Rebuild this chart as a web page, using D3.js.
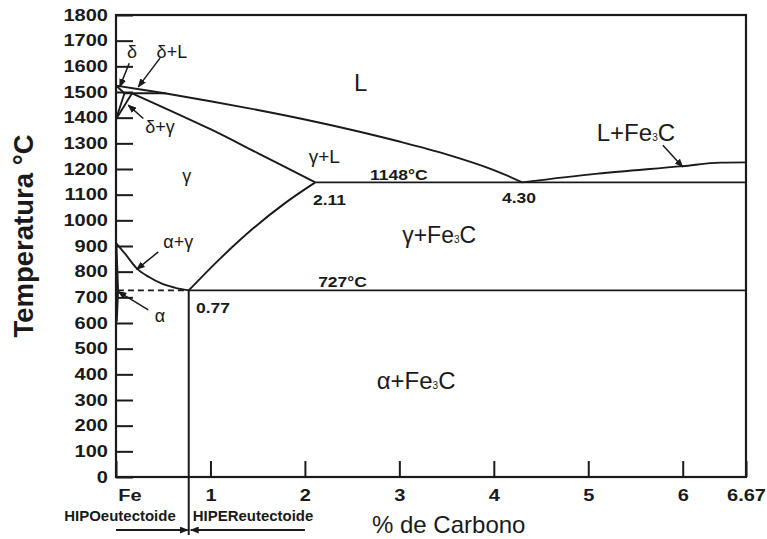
<!DOCTYPE html>
<html lang="es">
<head>
<meta charset="UTF-8">
<title>Diagrama Fe-C</title>
<style>
  body { margin: 0; background: #fff; }
  svg { display: block; font-family: "Liberation Sans", Arial, sans-serif; }
  .tick line { stroke: #1a1a1a; stroke-width: 2; }
  .tick text { font-size: 16px; font-weight: bold; fill: #1a1a1a; }
  .curve { fill: none; stroke: #1a1a1a; stroke-width: 1.9; }
  .lbl { fill: #1a1a1a; }
  .num { font-weight: bold; font-size: 14px; fill: #1a1a1a; }
</style>
</head>
<body>
<div id="chart"></div>
<script src="https://cdn.jsdelivr.net/npm/d3@7"></script>
<script>
// ejes
const tempTicks = d3.range(0, 1801, 100)
const carbonTicks = [0, 1, 2, 3, 4, 5, 6, 6.67]

// lineas del diagrama [%C, °C]
const liquidus = [[0, 1525], [0.5, 1496], [1.0, 1464], [1.5, 1430], [2.0, 1393], [2.5, 1352], [3.0, 1307], [3.5, 1257], [4.0, 1196], [4.3, 1148]]
const liquidusFe3C = [[4.3, 1148], [5.1, 1182], [6.0, 1211], [6.4, 1225], [6.67, 1226]]
const solidus = [[0.17, 1495], [1.0, 1355], [1.5, 1262], [2.11, 1148]]
const lineaA3 = [[0, 912], [0.1, 868], [0.22, 813], [0.35, 779], [0.48, 754], [0.62, 738], [0.77, 727]]
const lineaAcm = [[0.77, 727], [1.1, 850], [1.45, 968], [1.8, 1070], [2.11, 1148]]
const eutectica = [[2.11, 1148], [6.67, 1148]]
const eutectoide = [[0.77, 727], [6.67, 727]]
const eutectoideFerrita = [[0.02, 727], [0.77, 727]]
const peritectica = [[0.09, 1495], [0.53, 1495]]
const deltaL = [[0, 1525], [0.09, 1495]]
const deltaGamma1 = [[0, 1394], [0.09, 1495]]
const deltaGamma2 = [[0, 1394], [0.17, 1495]]
const solvusAlfa = [[0.005, 900], [0.022, 727], [0.008, 605]]

// etiquetas de fases: texto, %C, °C, tamaño
const fases = [
  ['δ', 0.17, 1632, 18, 'middle'],
  ['δ+L', 0.43, 1632, 18, 'start'],
  ['δ+γ', 0.31, 1340, 18, 'start'],
  ['γ', 0.75, 1149, 18, 'middle'],
  ['L', 2.59, 1504, 24, 'middle'],
  ['γ+L', 2.04, 1223, 19, 'start'],
  ['γ+Fe|3|C', 3.03, 912, 23, 'start'],
  ['α+γ', 0.5, 892, 18, 'start'],
  ['α', 0.41, 604, 18, 'start'],
  ['α+Fe|3|C', 2.76, 343, 24, 'start'],
  ['L+Fe|3|C', 5.09, 1309, 24, 'start']
]
// valores marcados
const puntos = [
  ['1148°C', 2.69, 1157],
  ['2.11', 2.085, 1060],
  ['4.30', 4.087, 1067],
  ['727°C', 2.14, 740],
  ['0.77', 0.847, 639]
]
// flechas [desde, hasta]
const flechas = [
  [[0.14, 1612], [0.04, 1520]],
  [[0.466, 1632], [0.236, 1520]],
  [[0.289, 1397], [0.13, 1449]],
  [[0.448, 877], [0.219, 809]],
  [[0.342, 651], [0.024, 722]],
  [[5.79, 1293], [6.0, 1208]]
]

const width = 767
const height = 539
const mLeft = 116, mTop = 15, mRight = 746, mBottom = 477

const svg = d3.select('#chart').append('svg').attr('width', width).attr('height', height)
svg.append('rect').attr('width', width).attr('height', height).attr('fill', '#fff')

const x = d3.scaleLinear().domain([0, 6.67]).range([mLeft, mRight])
const y = d3.scaleLinear().domain([0, 1800]).range([mBottom, mTop])

svg.append('defs').append('marker')
  .attr('id', 'flecha').attr('markerUnits', 'userSpaceOnUse')
  .attr('markerWidth', 9).attr('markerHeight', 7)
  .attr('refX', 8).attr('refY', 3.5).attr('orient', 'auto')
  .append('path').attr('d', 'M0,0 L9,3.5 L0,7 Z').attr('fill', '#1a1a1a')

// eje Y
const gy = svg.append('g').attr('transform', 'translate(' + mLeft + ',0)')
  .call(d3.axisLeft(y).tickValues(tempTicks).tickFormat(d3.format('d'))
    .tickSizeInner(-17).tickSizeOuter(0).tickPadding(0))
gy.select('.domain').remove()
gy.selectAll('.tick text').attr('x', -6.5).attr('transform', 'scale(1.25,1)')

// eje X
const gx = svg.append('g').attr('transform', 'translate(0,' + mBottom + ')')
  .call(d3.axisBottom(x).tickValues(carbonTicks).tickSizeInner(-16).tickSizeOuter(0).tickPadding(13)
    .tickFormat(d => d === 0 ? 'Fe' : d))
gx.select('.domain').remove()
gx.selectAll('.tick text').attr('transform', 'scale(1.25,1)')
gx.selectAll('.tick text').filter(d => d === 0).attr('text-anchor', 'start').attr('x', 1.5)

// marco
svg.append('rect').attr('x', mLeft).attr('y', mTop).attr('width', mRight - mLeft).attr('height', mBottom - mTop)
  .attr('fill', 'none').attr('stroke', '#1a1a1a').attr('stroke-width', 2.2)

const linea = d3.line().x(d => x(d[0])).y(d => y(d[1]))
const curva = d3.line().x(d => x(d[0])).y(d => y(d[1])).curve(d3.curveMonotoneX)
const curvaY = d3.line().x(d => x(d[0])).y(d => y(d[1])).curve(d3.curveCatmullRom)

const g = svg.append('g')
g.append('path').attr('class', 'curve').attr('d', curvaY(liquidus))
g.append('path').attr('class', 'curve').attr('d', curva(liquidusFe3C))
g.append('path').attr('class', 'curve').attr('d', curvaY(solidus))
g.append('path').attr('class', 'curve').attr('d', curva(lineaA3))
g.append('path').attr('class', 'curve').attr('d', curvaY(lineaAcm))
g.append('path').attr('class', 'curve').attr('d', linea(eutectica)).attr('stroke-width', 1.6)
g.append('path').attr('class', 'curve').attr('d', linea(eutectoide)).attr('stroke-width', 2.2)
g.append('path').attr('class', 'curve').attr('d', linea(eutectoideFerrita)).attr('stroke-width', 1.2).attr('stroke-dasharray', '6,4')
g.append('path').attr('class', 'curve').attr('d', linea(peritectica)).attr('stroke-width', 2.4)
;[deltaL, deltaGamma1, deltaGamma2].forEach(l => {
  g.append('path').attr('class', 'curve').attr('d', linea(l)).attr('stroke-width', 1.5)
})
g.append('path').attr('class', 'curve').attr('d', linea(solvusAlfa)).attr('stroke-width', 3.2)

// vertical 0.77 hasta debajo del eje
g.append('line').attr('x1', x(0.77)).attr('x2', x(0.77)).attr('y1', y(727)).attr('y2', mBottom + 58)
  .attr('stroke', '#1a1a1a').attr('stroke-width', 2)

// flechas
flechas.forEach(f => {
  g.append('line')
    .attr('x1', x(f[0][0])).attr('y1', y(f[0][1]))
    .attr('x2', x(f[1][0])).attr('y2', y(f[1][1]))
    .attr('stroke', '#1a1a1a').attr('stroke-width', 1.5)
    .attr('marker-end', 'url(#flecha)')
})

// etiquetas de fases
fases.forEach(f => {
  const t = svg.append('text').attr('class', 'lbl')
    .attr('x', x(f[1])).attr('y', y(f[2]))
    .attr('font-size', f[3]).attr('text-anchor', f[4])
  f[0].split('|').forEach((p, i) => {
    t.append('tspan').text(p).attr('font-size', i === 1 ? Math.round(f[3] * 0.42) : null)
  })
})

puntos.forEach(p => {
  svg.append('text').attr('class', 'num').text(p[0])
    .attr('transform', 'translate(' + x(p[1]) + ',' + y(p[2]) + ') scale(1.25,1)')
})

// hipo / hipereutectoide
const bx = x(0.77)
svg.append('text').attr('class', 'num').attr('font-size', 12).text('HIPOeutectoide')
  .attr('text-anchor', 'end').attr('transform', 'translate(' + (bx - 13) + ',' + 521 + ') scale(1.07,1)')
svg.append('text').attr('class', 'num').attr('font-size', 12).text('HIPEReutectoide')
  .attr('transform', 'translate(' + (bx + 4) + ',' + 521 + ') scale(1.07,1)')
const flechasAbajo = svg.append('g').attr('stroke', '#1a1a1a').attr('stroke-width', 2).attr('fill', 'none')
flechasAbajo.append('line').attr('x1', x(0)).attr('x2', bx - 1).attr('y1', 530).attr('y2', 530)
  .attr('marker-end', 'url(#flecha)')
flechasAbajo.append('line').attr('x1', x(2)).attr('x2', bx + 2).attr('y1', 530).attr('y2', 530)
  .attr('marker-end', 'url(#flecha)')

// titulos de ejes
svg.append('text').text('Temperatura °C')
  .attr('transform', 'translate(33,' + 236 + ') rotate(-90)')
  .attr('text-anchor', 'middle').attr('font-size', 27.5).attr('font-weight', 'bold').attr('fill', '#1a1a1a')
svg.append('text').text('% de Carbono')
  .attr('x', 372).attr('y', 533).attr('font-size', 24).attr('fill', '#1a1a1a')
</script>
</body>
</html>
